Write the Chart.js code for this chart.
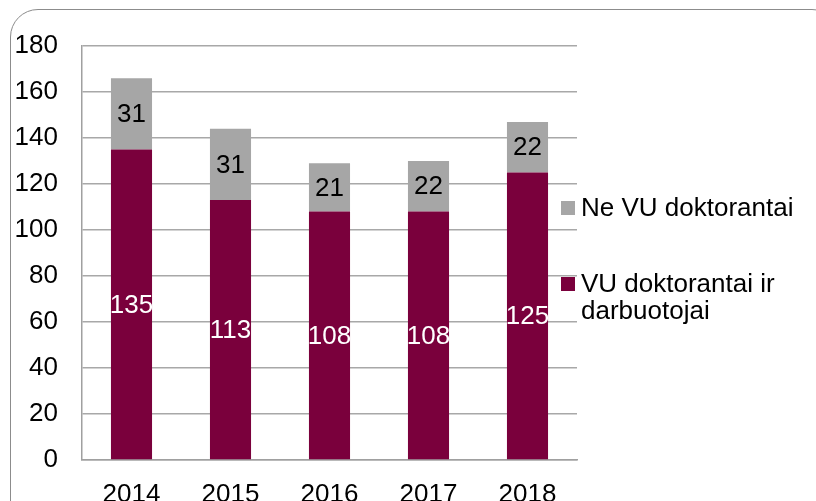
<!DOCTYPE html>
<html>
<head>
<meta charset="utf-8">
<script src="https://cdn.jsdelivr.net/npm/chart.js@4/dist/chart.umd.min.js"></script>
<style>
  html, body { margin: 0; padding: 0; background: #fff; overflow: hidden; }
  #wrap { position: relative; width: 816px; height: 501px; font-family: "Liberation Sans", Arial, sans-serif; }
  #frame {
    position: absolute; left: 10px; top: 9px; width: 830px; height: 520px;
    border: 1.5px solid #8c8c8c; border-radius: 28px; box-sizing: border-box;
  }
  #chart { position: absolute; left: 0; top: 0; }
  #legend { position: absolute; left: 561px; top: 0; font-size: 26px; color: #000; }
  .item { position: absolute; left: 0; white-space: nowrap; line-height: 27px; }
  .box { position: absolute; left: 0; width: 14px; height: 14px; }
  .txt { position: absolute; left: 20px; }
</style>
</head>
<body>
<div id="wrap">
  <div id="frame"></div>
  <canvas id="chart" width="816" height="501"></canvas>
  <div id="legend"></div>
</div>
<script>
const years = ["2014", "2015", "2016", "2017", "2018"];
const vu_staff = [135, 113, 108, 108, 125];
const non_vu = [31, 31, 21, 22, 22];
const y_ticks = [0, 20, 40, 60, 80, 100, 120, 140, 160, 180];

const vu_label = ["VU doktorantai ir", "darbuotojai"];
const non_vu_label = ["Ne VU doktorantai"];
const maroon = "#7a003c";
const grey = "#a6a6a6";
const font_family = '"Liberation Sans", Arial, sans-serif';

// writes the value of each segment in its middle
const segment_labels = {
  id: "segment_labels",
  afterDatasetsDraw(chart) {
    const ctx = chart.ctx;
    ctx.save();
    ctx.font = "26px " + font_family;
    ctx.textAlign = "center";
    ctx.textBaseline = "middle";
    chart.data.datasets.forEach((ds, i) => {
      const meta = chart.getDatasetMeta(i);
      ctx.fillStyle = ds.labelColor;
      meta.data.forEach((bar, j) => {
        const mid = (bar.y + bar.base) / 2;
        ctx.fillText(String(ds.data[j]), bar.x, mid + 1);
      });
    });
    ctx.restore();
  },
};

const chart = new Chart(document.getElementById("chart"), {
  type: "bar",
  data: {
    labels: years,
    datasets: [
      {
        label: vu_label.join(" "),
        data: vu_staff,
        backgroundColor: maroon,
        labelColor: "#ffffff",
        categoryPercentage: 1,
        barPercentage: 0.415,
      },
      {
        label: non_vu_label.join(" "),
        data: non_vu,
        backgroundColor: grey,
        labelColor: "#000000",
        categoryPercentage: 1,
        barPercentage: 0.415,
      },
    ],
  },
  options: {
    responsive: false,
    animation: false,
    layout: { padding: { left: 10, right: 239, top: 46, bottom: 0 } },
    plugins: { legend: { display: false }, tooltip: { enabled: false } },
    scales: {
      x: {
        stacked: true,
        grid: { display: false, drawTicks: false },
        border: { color: "#a0a0a0", width: 1.5 },
        ticks: {
          color: "#000",
          padding: 19,
          font: { family: font_family, size: 26 },
        },
        afterFit: (s) => { s.height = 41; },
      },
      y: {
        stacked: true,
        min: 0,
        max: 180,
        afterBuildTicks: (s) => { s.ticks = y_ticks.map((v) => ({ value: v })); },
        grid: { color: "#a8a8a8", lineWidth: 1.5, drawTicks: false },
        border: { color: "#a0a0a0", width: 1.5 },
        ticks: {
          color: "#000",
          padding: 24,
          font: { family: font_family, size: 26 },
        },
        afterFit: (s) => { s.width = 72; },
      },
    },
  },
  plugins: [segment_labels],
});

// legend on the right, top series first
const legend = document.getElementById("legend");
[
  { lines: non_vu_label, color: grey, top: 194 },
  { lines: vu_label, color: maroon, top: 270 },
].forEach((it) => {
  const div = document.createElement("div");
  div.className = "item";
  div.style.top = it.top + "px";
  div.innerHTML =
    `<span class="box" style="background:${it.color};top:7px"></span>` +
    `<span class="txt">${it.lines.join("<br>")}</span>`;
  legend.appendChild(div);
});
</script>
</body>
</html>
